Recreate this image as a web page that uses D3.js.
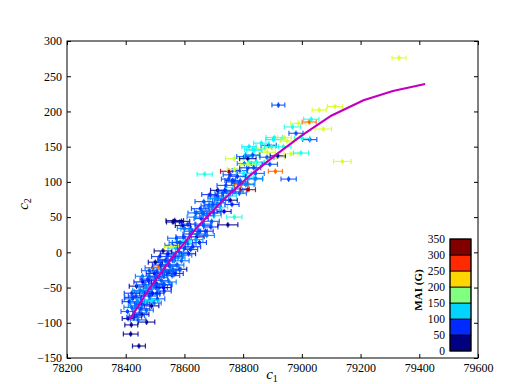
<!DOCTYPE html>
<meta charset="utf-8">
<style>
body { margin: 0; background: #fff; }
text { font-family: "Liberation Serif", "DejaVu Serif", serif; }
.axis path { display: none; }
.axis line { stroke: #000; }
.axis text { font-size: 12px; fill: #000; }
</style>
<body>
<script src="https://d3js.org/d3.v7.min.js"></script>
<script>

// measured c1 (x), c2 (y), half-width of c1 error and MAI colour value
var c1 = [
  78445,78417,78419,78471,78408,78429,78455,78406,78452,78420,
  78488,78444,78412,78480,78508,78468,78435,78488,78459,78531,
  78485,78514,78437,78466,78504,78548,78490,78475,78513,78457,
  78558,78498,78547,78522,78584,78492,78513,78549,78521,78501,
  78590,78539,78578,78516,78565,78614,78583,78527,78621,78570,
  78558,78612,78651,78595,78573,78642,78676,78619,78555,78652,
  78618,78690,78595,78664,78567,78590,78561,78693,78657,78637,
  78701,78663,78735,78699,78654,78723,78683,78762,78712,78666,
  78756,78714,78752,78687,78787,78742,78713,78793,78768,78741,
  78816,78769,78669,78750,78840,78808,78756,78842,78751,78789,
  78770,78816,78838,78804,78845,78770,78816,78804,78830,78833,
  78872,78820,78887,78906,78940,78903,78912,78918,78963,78997,
  78968,78980,78988,79025,79032,79027,79001,79073,79059,79113,
  78920,79138,79331,78910,78955,78816,78793,78748,78770,78802,
  78836,78780,78845,78881,78816,78882,78897,78862,78937,78950,
  78891,78843,78789,78833,78838,
  78448,78456,78423,78506,78461,78497,78531,78458,78502,78540,
  78568,78480,78507,78551,78560,78519,78540,78574,78566,78544,
  78595,78600,78629,78576,78639,78597,78627,78600,78672,78665,
  78700,78660,78693,78726,78707,78772,78784,78764,78809,78738,
  78706,78697,78676,78644,78480,78421,78469,78442,78433,78529,
  78521,78491,
  78438,78470,78425,78497,78450,78478,78530,78440,78505,78535,
  78560,78585,78612,78640,78730
];
var c2 = [
  -133,-116,-103,-99,-94,-92,-88,-84,-80,-78,
  -76,-72,-70,-68,-66,-69,-62,-60,-56,-55,
  -52,-50,-48,-46,-44,-42,-68,-38,-36,-34,
  -33,-30,-28,-25,-24,-22,-21,-18,-15,-14,
  -12,-10,-8,-6,-4,-2,0,2,4,6,
  10,12,14,16,20,22,24,26,8,30,
  33,36,38,40,45,44,43,44,48,50,
  52,55,58,60,62,64,66,68,70,72,
  74,77,80,82,84,86,88,90,92,95,
  97,100,111,104,104,107,110,112,115,116,
  118,120,124,126,128,133,133,136,138,146,
  148,150,152,163,163,160,135,137,140,141,
  178,169,183,185,189,160,162,175,202,207,
  209,129,276,115,104,89,96,39,50,112,
  120,108,128,135,125,142,150,155,150,158,
  125,105,100,138,145,
  -86,-74,-66,-58,-58,-48,-46,-42,-34,-32,
  -30,-26,-28,-20,-26,-18,-12,-18,-6,-2,
  -4,6,8,14,18,22,30,34,30,38,
  56,58,64,74,80,86,98,102,96,88,
  76,68,52,26,-62,-58,-50,-96,-76,-50,
  -40,-58,
  -90,-82,-64,-72,-54,-40,-46,-70,-34,-12,
  -24,14,40,56,84
];
var c1Err = [
  22,25,22,28,20,25,24,22,30,26,
  25,28,24,30,25,25,26,28,30,24,
  26,28,25,30,26,24,25,26,30,24,
  26,28,25,30,24,26,22,28,25,24,
  26,30,24,28,26,24,28,30,24,26,
  25,28,24,26,30,25,26,24,24,26,
  30,24,26,25,30,28,22,26,24,28,
  25,26,24,28,30,24,26,24,28,30,
  24,26,25,28,24,26,24,28,26,30,
  24,26,26,24,26,28,24,30,28,26,
  24,28,26,24,28,30,28,26,24,28,
  26,24,26,28,24,26,28,26,24,26,
  28,24,26,24,26,24,26,28,24,26,
  22,30,24,24,26,26,24,34,26,26,
  24,28,26,24,26,28,24,26,26,24,
  26,24,26,24,26,
  24,26,28,24,26,28,24,30,26,24,
  28,26,24,30,24,28,26,24,28,26,
  30,24,26,28,24,26,28,24,26,28,
  24,26,28,24,26,28,24,26,28,24,
  26,28,24,26,28,26,24,26,24,26,
  24,26,
  26,24,28,24,26,24,28,24,26,24,
  28,26,24,28,26
];
var mai = [
  5,5,5,5,10,60,10,70,65,80,
  10,75,55,90,70,135,60,85,75,60,
  95,70,10,80,65,88,125,60,75,85,
  70,50,65,90,10,75,270,60,130,10,
  80,70,95,60,85,45,75,5,65,110,
  70,90,60,140,75,10,85,65,205,70,
  95,55,5,80,5,10,5,75,60,90,
  120,70,40,85,65,135,75,55,90,70,
  10,80,120,60,75,95,10,65,140,70,
  85,60,140,75,90,130,65,80,340,70,
  200,60,135,85,140,200,5,75,130,135,
  205,125,70,140,200,130,205,5,205,140,
  140,70,205,270,140,70,140,205,205,205,
  70,205,205,270,70,340,270,5,140,130,
  70,60,140,75,200,205,140,130,140,205,
  70,90,80,70,130,
  70,55,80,65,90,75,60,45,70,85,
  55,75,65,80,70,60,90,75,65,50,
  85,70,60,80,95,65,70,85,60,75,
  65,80,90,70,60,85,75,65,90,60,
  95,70,85,75,65,60,95,75,85,45,
  75,50,
  70,75,65,80,85,60,70,90,75,65,
  80,70,60,75,70
];
var c2Err = 4;

// fitted curve
var fitC1 = [78414,78480,78550,78640,78731,78820,78910,79000,79100,79210,79310,79420];
var fitC2 = [-95,-52,-12,34,74,108,138,166,194,216,229,239];

var xTicks = [78200,78400,78600,78800,79000,79200,79400,79600];
var yTicks = [-150,-100,-50,0,50,100,150,200,250,300];
var cbTicks = [0,50,100,150,200,250,300,350];

var margin = {top: 41, right: 54, bottom: 26, left: 67},
    width = 532 - margin.left - margin.right,
    height = 384 - margin.top - margin.bottom;

var x = d3.scaleLinear().domain([78200, 79600]).range([0, width]);
var y = d3.scaleLinear().domain([-150, 300]).range([height, 0]);

function jet(t) {
  var c = function(v) { return 255 * Math.max(0, Math.min(1, v)); };
  return d3.rgb(c(1.5 - Math.abs(4*t - 3)), c(1.5 - Math.abs(4*t - 2)), c(1.5 - Math.abs(4*t - 1))).toString();
}
var color = function(v) { return jet(v / 350); };

var svg = d3.select("body").append("svg")
    .attr("width", 532)
    .attr("height", 384);

var g = svg.append("g")
    .attr("transform", "translate(" + margin.left + "," + margin.top + ")");

// error bars + points
var pts = g.append("g").selectAll("g")
    .data(d3.range(c1.length))
  .enter().append("g")
    .attr("stroke", function(i) { return color(mai[i]); })
    .attr("stroke-width", 1.2)
    .attr("fill", function(i) { return color(mai[i]); });

pts.append("line")
    .attr("x1", function(i) { return x(c1[i] - c1Err[i]); })
    .attr("x2", function(i) { return x(c1[i] + c1Err[i]); })
    .attr("y1", function(i) { return y(c2[i]); })
    .attr("y2", function(i) { return y(c2[i]); })
    .attr("stroke-opacity", 0.85);
pts.append("line")
    .attr("x1", function(i) { return x(c1[i]); })
    .attr("x2", function(i) { return x(c1[i]); })
    .attr("y1", function(i) { return y(c2[i] - c2Err); })
    .attr("y2", function(i) { return y(c2[i] + c2Err); })
    .attr("stroke-opacity", 0.85);
[-1, 1].forEach(function(s) {
  pts.append("line")
      .attr("x1", function(i) { return x(c1[i] + s * c1Err[i]); })
      .attr("x2", function(i) { return x(c1[i] + s * c1Err[i]); })
      .attr("y1", function(i) { return y(c2[i]) - 2.5; })
      .attr("y2", function(i) { return y(c2[i]) + 2.5; })
      .attr("stroke-opacity", 0.85);
});
pts.append("rect")
    .attr("x", function(i) { return x(c1[i]) - 1.5; })
    .attr("y", function(i) { return y(c2[i]) - 1.5; })
    .attr("width", 3)
    .attr("height", 3)
    .attr("stroke", "none");

// fitted line
var valueline = d3.line()
    .x(function(d, i) { return x(fitC1[i]); })
    .y(function(d, i) { return y(fitC2[i]); });
g.append("path")
    .datum(fitC1)
    .attr("fill", "none")
    .attr("stroke", "#c000c0")
    .attr("stroke-width", 2.2)
    .attr("d", valueline);

// axes, ticks pointing inside
g.append("g")
    .attr("class", "axis")
    .attr("transform", "translate(0," + height + ")")
    .call(d3.axisBottom(x).tickValues(xTicks).tickSize(-4).tickPadding(5).tickFormat(d3.format("d")));
g.append("g")
    .attr("class", "axis")
    .call(d3.axisTop(x).tickValues(xTicks).tickSize(-4).tickFormat(""));
g.append("g")
    .attr("class", "axis")
    .call(d3.axisLeft(y).tickValues(yTicks).tickSize(-4).tickPadding(5));
g.append("g")
    .attr("class", "axis")
    .attr("transform", "translate(" + width + ",0)")
    .call(d3.axisRight(y).tickValues(yTicks).tickSize(-4).tickFormat(""));

g.append("rect")
    .attr("width", width)
    .attr("height", height)
    .attr("fill", "none")
    .attr("stroke", "#000");

// axis labels
var xl = svg.append("text")
    .attr("x", 272)
    .attr("y", 379)
    .attr("text-anchor", "middle")
    .style("font-size", "15px");
xl.append("tspan").style("font-style", "italic").text("c");
xl.append("tspan").attr("dy", 3).style("font-size", "10px").text("1");

var yl = svg.append("text")
    .attr("transform", "translate(28,204) rotate(-90)")
    .attr("text-anchor", "middle")
    .style("font-size", "15px");
yl.append("tspan").style("font-style", "italic").text("c");
yl.append("tspan").attr("dy", 3).style("font-size", "10px").text("2");

// colorbar
var cb = {x: 450, w: 21, top: 239, bottom: 351};
var cy = d3.scaleLinear().domain([0, 350]).range([cb.bottom, cb.top]);
var bins = d3.range(7);
svg.append("g").selectAll("rect")
    .data(bins)
  .enter().append("rect")
    .attr("x", cb.x)
    .attr("y", function(i) { return cy((i + 1) * 50); })
    .attr("width", cb.w)
    .attr("height", function(i) { return cy(i * 50) - cy((i + 1) * 50); })
    .attr("fill", function(i) { return jet(i / 6); })
    .attr("stroke", "#000")
    .attr("stroke-width", 0.8);
svg.append("rect")
    .attr("x", cb.x)
    .attr("y", cb.top)
    .attr("width", cb.w)
    .attr("height", cb.bottom - cb.top)
    .attr("fill", "none")
    .attr("stroke", "#000");
svg.append("g").selectAll("text")
    .data(cbTicks)
  .enter().append("text")
    .attr("x", 445)
    .attr("y", function(d) { return cy(d); })
    .attr("dy", "0.35em")
    .attr("text-anchor", "end")
    .style("font-size", "11.5px")
    .text(function(d) { return d; });
svg.append("text")
    .attr("transform", "translate(422,290) rotate(-90)")
    .attr("text-anchor", "middle")
    .style("font-size", "11px")
    .style("font-weight", "bold")
    .text("MAI (G)");

</script>
</body>
